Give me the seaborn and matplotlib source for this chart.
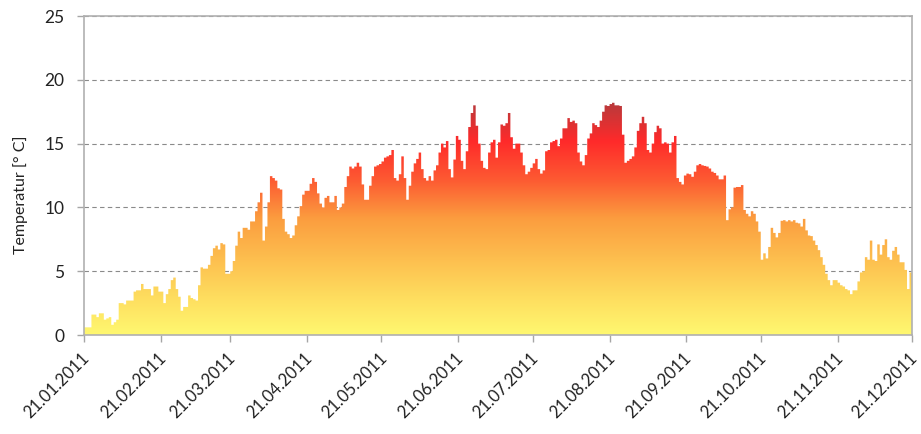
import numpy as np
import pandas as pd
import matplotlib
matplotlib.use('Agg')
import matplotlib.pyplot as plt
import matplotlib.dates as mdates
import matplotlib.transforms as mtransforms
import seaborn as sns

# daily mean temperature, 21.01.2011 .. 20.12.2011
temps = [
    0.6, 0.6, 0.6, 1.6, 1.6, 1.4, 1.7, 1.7, 1.2, 1.3,
    1.4, 0.8, 1.0, 1.2, 2.5, 2.5, 2.4, 2.7, 2.7, 2.7,
    3.4, 3.5, 3.5, 4.0, 3.6, 3.6, 3.6, 3.1, 3.8, 3.8,
    3.4, 3.4, 2.5, 3.2, 3.6, 4.3, 4.5, 3.6, 3.0, 1.9,
    2.2, 2.2, 3.1, 2.9, 2.8, 2.7, 3.9, 5.3, 5.2, 5.2,
    5.5, 6.2, 6.8, 7.0, 6.7, 7.2, 7.1, 4.8, 4.8, 5.0,
    5.8, 7.0, 8.1, 7.6, 8.4, 8.4, 8.25, 8.9, 8.9, 9.7,
    10.4, 11.15, 7.4, 8.5, 10.4, 12.45, 12.3, 12.1, 11.5, 11.4,
    9.1, 8.1, 7.9, 7.6, 7.8, 8.6, 9.3, 10.1, 11.0, 11.3,
    11.3, 11.85, 12.3, 12.0, 11.1, 10.3, 10.0, 10.75, 10.9, 10.4,
    10.4, 10.9, 9.8, 10.0, 10.3, 11.6, 12.45, 13.2, 13.05, 13.2,
    13.5, 13.2, 11.8, 10.6, 10.6, 11.7, 12.45, 13.2, 13.3, 13.4,
    13.6, 13.9, 14.0, 14.1, 14.5, 12.3, 12.1, 12.6, 14.0, 12.3,
    10.6, 11.7, 12.8, 13.45, 13.8, 14.3, 13.0, 12.3, 12.1, 12.45,
    12.1, 12.9, 13.3, 14.3, 15.0, 14.7, 15.2, 13.0, 12.35, 13.75,
    15.6, 15.3, 13.65, 13.0, 14.4, 16.3, 17.4, 18.0, 16.4, 15.0,
    13.65, 13.1, 13.0, 14.3, 15.1, 15.3, 13.9, 15.1, 16.5, 16.4,
    16.6, 17.4, 15.5, 14.6, 15.0, 15.0, 14.3, 13.3, 12.6, 12.8,
    13.1, 13.45, 13.8, 13.0, 12.65, 12.9, 14.4, 14.5, 15.1, 15.2,
    15.3, 14.8, 15.4, 16.2, 16.2, 17.0, 16.7, 16.8, 16.6, 14.3,
    13.6, 13.3, 14.1, 15.4, 15.8, 16.6, 16.45, 16.3, 16.8, 17.5,
    18.0, 17.95, 18.1, 18.2, 18.0, 18.0, 17.95, 15.7, 13.5, 13.65,
    13.8, 14.0, 14.7, 16.0, 16.6, 17.1, 16.6, 14.5, 14.3, 15.0,
    15.9, 16.4, 16.2, 15.0, 15.1, 15.0, 14.3, 15.1, 15.6, 12.3,
    12.0, 11.8, 12.5, 12.65, 12.6, 12.4, 12.8, 13.3, 13.4, 13.3,
    13.25, 13.2, 13.05, 12.8, 12.7, 12.5, 12.2, 12.2, 12.5, 9.0,
    9.85, 10.0, 11.55, 11.6, 11.6, 11.75, 9.8, 9.5, 9.3, 9.7,
    9.5, 8.9, 8.1, 5.9, 6.4, 6.0, 6.9, 8.4, 8.0, 7.65,
    8.0, 8.95, 9.0, 8.9, 9.0, 8.9, 9.0, 8.8, 8.75, 8.5,
    9.1, 8.2, 7.8, 7.75, 7.4, 7.05, 6.65, 6.1, 5.5, 4.8,
    4.3, 3.9, 4.3, 4.3, 4.1, 3.9, 3.8, 3.6, 3.5, 3.2,
    3.5, 3.5, 4.2, 4.9, 5.0, 6.1, 5.9, 7.4, 5.9, 5.8,
    7.1, 6.3, 7.05, 7.5, 6.1, 5.9, 6.6, 6.9, 6.3, 5.7,
    5.7, 5.1, 3.6, 4.9,
]
start_date = "2011-01-21"
tick_dates = ["2011-01-21", "2011-02-21", "2011-03-21", "2011-04-21",
              "2011-05-21", "2011-06-21", "2011-07-21", "2011-08-21",
              "2011-09-21", "2011-10-21", "2011-11-21", "2011-12-21"]
y_ticks = [0, 5, 10, 15, 20, 25]
# yellow -> orange -> red -> dark red
fill_colors = ["#FFF870", "#FEDC5E", "#FDBD4E", "#FB9D3F", "#FD5A32", "#FF2A2A", "#B73A3C"]

sns.set_theme(style="white")
plt.rcParams['font.family'] = ['Lato', 'DejaVu Sans']

df = pd.DataFrame({
    "date": pd.date_range(start_date, periods=len(temps) + 1),
    "temp": temps + [temps[-1]],
})
x = mdates.date2num(df["date"])

fig = plt.figure(figsize=(9.21, 4.34), dpi=100)
ax = fig.add_axes([0.0912, 0.2281, 0.899, 0.735])

poly = ax.fill_between(x, 0, df["temp"], step="post", facecolor="none", edgecolor="none")
cmap = sns.blend_palette(fill_colors, as_cmap=True)
grad = np.linspace(0, 1, 256).reshape(-1, 1)
im = ax.imshow(grad, extent=[x[0], x[-1], 0, df["temp"].max()], origin="lower",
               aspect="auto", cmap=cmap, zorder=2)
im.set_clip_path(poly.get_paths()[0], transform=ax.transData)

ax.set_xlim(x[0], x[-1])
ax.set_ylim(0, 25)
ax.set_yticks(y_ticks)
ax.yaxis.grid(True, linestyle=(0, (4, 3)), color="#8a8a8a", linewidth=0.8)
for gl in ax.yaxis.get_gridlines():
    gl.set_zorder(3)

ticks = mdates.date2num(pd.to_datetime(tick_dates))
ax.set_xticks(ticks)
ax.set_xticklabels([pd.Timestamp(t).strftime("%d.%m.%Y") for t in tick_dates],
                   rotation=45, ha="right", rotation_mode="anchor")
ax.tick_params(axis="both", which="both", direction="out", length=5, width=1,
               color="#a6a6a6", labelcolor="#222222", bottom=True, left=True)
ax.tick_params(axis="x", pad=6, labelsize=12)
ax.tick_params(axis="y", pad=9, labelsize=12.5)
# nudge the date labels a little to the left, as in the original
shift = mtransforms.ScaledTranslation(-3 / 100, 0, fig.dpi_scale_trans)
for lbl in ax.get_xticklabels():
    lbl.set_transform(lbl.get_transform() + shift)
for side in ["left", "right", "top", "bottom"]:
    ax.spines[side].set_visible(True)
    ax.spines[side].set_color("#b0b0b0")
    ax.spines[side].set_linewidth(1.2)
    ax.spines[side].set_zorder(4)

ax.set_ylabel("Temperatur [° C]", fontsize=11.5, color="#222222")
ax.yaxis.set_label_coords(-0.068, 0.44)

fig.savefig("out.png", dpi=100)
